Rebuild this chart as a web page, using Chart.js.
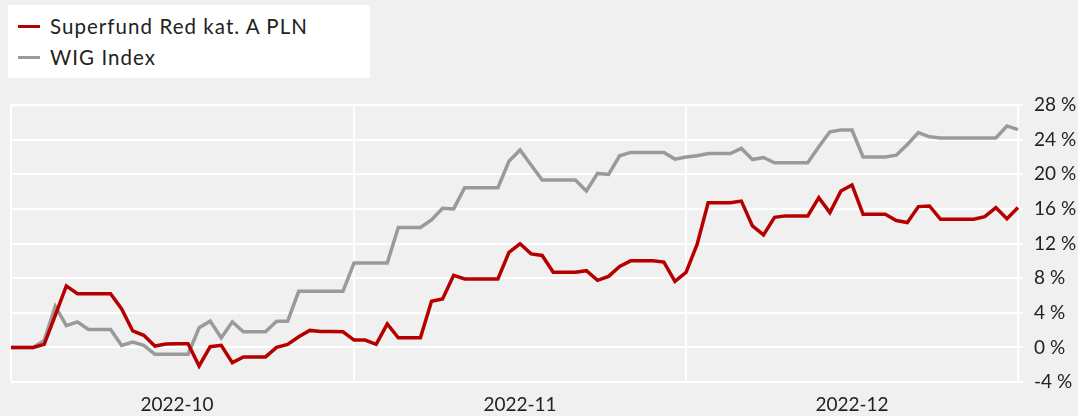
<!DOCTYPE html>
<html>
<head>
<meta charset="utf-8">
<script src="https://cdn.jsdelivr.net/npm/chart.js@4/dist/chart.umd.min.js"></script>
<style>
  html, body { margin: 0; padding: 0; background: #f0f0f0; }
  #wrap { position: relative; width: 1078px; height: 416px; }
  #legend {
    position: absolute; left: 8px; top: 5px; width: 362px; height: 73px;
    background: #fff; font-family: Lato, 'Open Sans', sans-serif; font-size: 20.5px;
    letter-spacing: 1.05px; color: #222;
  }
  .item { position: absolute; left: 10px; display: flex; align-items: center; }
  .swatch { width: 22px; height: 3px; margin-right: 10px; }
</style>
</head>
<body>
<div id="wrap">
  <canvas id="chart" width="1078" height="416"></canvas>
  <div id="legend"></div>
</div>
<script>
// daily points, 2022-10-01 .. 2022-12-31
const startDay = '2022-10-01';
const dayCount = 92;
const monthTicks = ['2022-10', '2022-11', '2022-12'];

const fundValues = [
  0, 0, 0, 0.35, 3.7, 7.1, 6.2, 6.2, 6.2, 6.2,
  4.45, 1.9, 1.4, 0.15, 0.4, 0.42, 0.42, -2.15, 0.08, 0.23,
  -1.76, -1.1, -1.1, -1.1, 0, 0.35, 1.23, 1.96, 1.84, 1.84,
  1.8, 0.84, 0.84, 0.35, 2.72, 1.11, 1.11, 1.11, 5.33, 5.6,
  8.32, 7.9, 7.9, 7.9, 7.9, 10.97, 11.97, 10.8, 10.62, 8.67,
  8.67, 8.67, 8.86, 7.75, 8.2, 9.36, 10.0, 10.0, 10.0, 9.86,
  7.63, 8.67, 11.9, 16.7, 16.7, 16.7, 16.9, 14.04, 13.0, 15.03,
  15.19, 15.19, 15.19, 17.3, 15.57, 18.07, 18.76, 15.38, 15.38, 15.38,
  14.65, 14.42, 16.26, 16.34, 14.8, 14.8, 14.8, 14.8, 15.1, 16.15,
  14.85, 16.15
];

const wigValues = [
  0, 0, 0, 0.8, 4.75, 2.5, 2.95, 2.07, 2.07, 2.07,
  0.23, 0.6, 0.23, -0.8, -0.8, -0.8, -0.8, 2.26, 3.03, 1.11,
  2.95, 1.8, 1.8, 1.8, 3.03, 3.03, 6.48, 6.48, 6.48, 6.48,
  6.48, 9.75, 9.75, 9.75, 9.75, 13.85, 13.85, 13.85, 14.73, 16.07,
  16.0, 18.45, 18.45, 18.45, 18.45, 21.5, 22.8, 21.06, 19.33, 19.33,
  19.33, 19.33, 18.07, 20.1, 19.98, 22.13, 22.52, 22.52, 22.52, 22.52,
  21.75, 22.0, 22.13, 22.4, 22.4, 22.4, 22.98, 21.7, 21.94, 21.33,
  21.33, 21.33, 21.33, 23.17, 24.9, 25.1, 25.1, 22.0, 22.0, 22.0,
  22.2, 23.44, 24.82, 24.32, 24.2, 24.2, 24.2, 24.2, 24.2, 24.2,
  25.58, 25.15
];

const seriesNames = ['Superfund Red kat. A PLN', 'WIG Index'];
const seriesColors = ['#b60000', '#9a9a9a'];

const dayLabels = [];
const d0 = new Date(startDay + 'T00:00:00Z');
for (let i = 0; i < dayCount; i++) {
  const d = new Date(d0.getTime() + i * 86400000);
  dayLabels.push(d.toISOString().slice(0, 10));
}

Chart.defaults.font.family = 'Lato, "Open Sans", sans-serif';
Chart.defaults.font.size = 19;
Chart.defaults.color = '#222';

const isGridDay = (i) => i === 0 || i === dayCount - 1 || dayLabels[i].endsWith('-01');

const chart = new Chart(document.getElementById('chart'), {
  type: 'line',
  data: {
    labels: dayLabels,
    datasets: [
      { label: seriesNames[0], data: fundValues, borderColor: seriesColors[0], borderWidth: 3.5, pointRadius: 0, tension: 0, order: 0 },
      { label: seriesNames[1], data: wigValues, borderColor: seriesColors[1], borderWidth: 3.5, pointRadius: 0, tension: 0, order: 1 }
    ]
  },
  options: {
    responsive: false,
    animation: false,
    layout: { padding: { left: 8, top: 105, right: 0, bottom: 0 } },
    plugins: { legend: { display: false }, tooltip: { enabled: false } },
    scales: {
      x: {
        type: 'category',
        offset: false,
        border: { display: false },
        grid: {
          drawTicks: false,
          lineWidth: 2,
          color: (ctx) => isGridDay(ctx.index) ? '#ffffff' : 'rgba(0,0,0,0)'
        },
        ticks: {
          autoSkip: false,
          maxRotation: 0,
          minRotation: 0,
          padding: 11,
          font: { size: 19 },
          callback: (value, index) => {
            const lbl = dayLabels[index];
            return lbl.endsWith('-16') && monthTicks.includes(lbl.slice(0, 7)) ? lbl.slice(0, 7) : '';
          }
        },
        afterFit: (scale) => { scale.height = 34; }
      },
      y: {
        position: 'right',
        min: -4,
        max: 28,
        border: { display: false },
        grid: { color: '#ffffff', lineWidth: 2, tickLength: 5 },
        ticks: {
          stepSize: 4,
          padding: 11,
          callback: (v) => v + ' %'
        },
        afterFit: (scale) => { scale.width = 60; }
      }
    }
  }
});

// legend built from the chart's datasets
const legend = document.getElementById('legend');
chart.data.datasets.forEach((ds, i) => {
  const item = document.createElement('div');
  item.className = 'item';
  item.style.top = (9 + i * 31) + 'px';
  item.innerHTML = '<span class="swatch" style="background:' + ds.borderColor + '"></span><span>' + ds.label + '</span>';
  legend.appendChild(item);
});
</script>
</body>
</html>
